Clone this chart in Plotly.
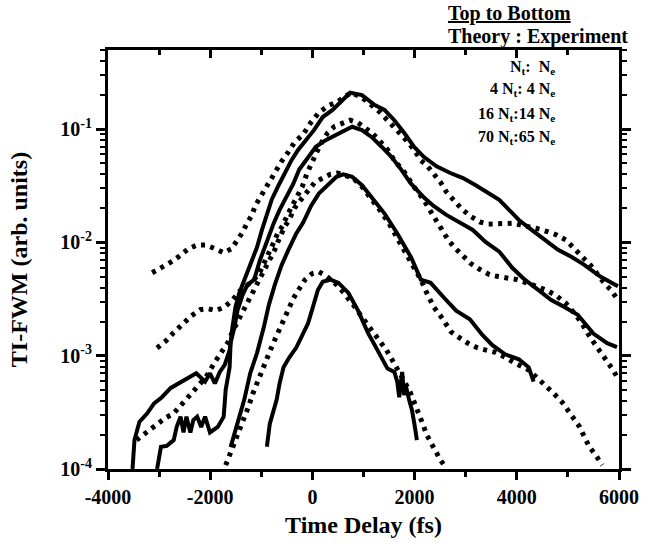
import plotly.graph_objects as go

# ---------------- data ----------------
# Experiment (solid), top to bottom
exp1_x = [-3520, -3482, -3386, -3232, -3098, -2945, -2772, -2618, -2465, -2273, -2100, -2004, -1908, -1812,
          -1716, -1620, -1563, -1505, -1428, -1333, -1217, -1083, -987, -891, -795, -661, -546, -411, -277,
          -124, 30, 203, 395, 587, 740, 970, 1220, 1412, 1603, 1795, 1987, 2179, 2429, 2698, 2947, 3196,
          3388, 3657, 3849, 4041, 4290, 4540, 4808, 5058, 5307, 5634, 5979]
exp1_y = [1.0e-4, 1.8e-4, 2.6e-4, 3.1e-4, 3.8e-4, 4.3e-4, 5.2e-4, 5.7e-4, 6.1e-4, 7.0e-4, 5.9e-4, 7.0e-4,
          5.7e-4, 7.2e-4, 8.3e-4, 1.12e-3, 1.8e-3, 2.7e-3, 3.6e-3, 4.7e-3, 6.6e-3, 9.1e-3, 1.29e-2, 1.8e-2,
          2.4e-2, 3.2e-2, 4.1e-2, 5.3e-2, 6.6e-2, 8.0e-2, 9.8e-2, 0.128, 0.148, 0.18, 0.21, 0.20, 0.163,
          0.148, 0.12, 0.093, 0.070, 0.057, 0.047, 0.041, 0.037, 0.032, 0.028, 0.0238, 0.0194, 0.0158,
          0.0129, 0.0105, 0.0086, 0.0075, 0.0064, 0.0050, 0.0041]

exp2_x = [-3040, -2963, -2849, -2714, -2657, -2580, -2522, -2465, -2388, -2330, -2254, -2177, -2100, -2004,
          -1851, -1736, -1697, -1620, -1601, -1524, -1467, -1371, -1275, -1140, -1025, -891, -757, -642,
          -507, -373, -258, -85, 68, 260, 452, 644, 778, 970, 1162, 1354, 1546, 1738, 1930, 2179, 2371,
          2621, 2890, 3139, 3388, 3657, 3906, 4156, 4425, 4674, 4923, 5192, 5499, 5768, 5960]
exp2_y = [1.0e-4, 1.57e-4, 1.6e-4, 1.8e-4, 2.35e-4, 2.9e-4, 2.1e-4, 2.9e-4, 2.1e-4, 2.7e-4, 2.9e-4, 2.35e-4,
          2.9e-4, 2.1e-4, 2.35e-4, 2.9e-4, 5.0e-4, 7.9e-4, 1.3e-3, 1.8e-3, 2.5e-3, 3.4e-3, 4.2e-3, 4.7e-3,
          7.0e-3, 1.05e-2, 1.48e-2, 1.94e-2, 2.5e-2, 3.3e-2, 4.4e-2, 5.7e-2, 7.0e-2, 8.0e-2, 8.8e-2,
          9.8e-2, 0.105, 0.098, 0.085, 0.070, 0.057, 0.044, 0.033, 0.025, 0.021, 0.0175, 0.0151, 0.0129,
          0.0101, 0.0083, 0.0060, 0.0047, 0.0038, 0.0031, 0.0027, 0.0023, 0.00157, 0.00129, 0.00119]

exp3_x = [-1601, -1524, -1428, -1333, -1217, -1083, -949, -853, -738, -603, -469, -315, -181, -27, 126, 318,
          471, 606, 778, 970, 1162, 1412, 1661, 1930, 2122, 2314, 2563, 2813, 3081, 3331, 3522, 3772, 4041,
          4233, 4329]
exp3_y = [1.56e-4, 2.1e-4, 2.9e-4, 4.1e-4, 7.0e-4, 1.06e-3, 1.8e-3, 2.8e-3, 4.2e-3, 6.3e-3, 8.6e-3, 1.2e-2,
          1.5e-2, 2.1e-2, 2.7e-2, 3.3e-2, 3.8e-2, 4.0e-2, 3.8e-2, 3.2e-2, 2.5e-2, 1.8e-2, 1.2e-2, 7.4e-3,
          4.7e-3, 4.4e-3, 3.3e-3, 2.5e-3, 2.1e-3, 1.52e-3, 1.24e-3, 1.03e-3, 9.3e-4, 7.9e-4, 5.9e-4]

exp4_x = [-891, -834, -699, -642, -565, -450, -315, -219, -85, 11, 107, 203, 356, 510, 702, 894, 1085, 1220,
          1354, 1469, 1603, 1661, 1699, 1757, 1795, 1834, 1891, 1949, 2006, 2045]
exp4_y = [1.57e-4, 2.5e-4, 4.1e-4, 5.7e-4, 7.9e-4, 9.7e-4, 1.18e-3, 1.46e-3, 1.93e-3, 2.7e-3, 3.8e-3, 4.5e-3,
          4.7e-3, 4.4e-3, 3.6e-3, 2.5e-3, 1.6e-3, 1.24e-3, 9.8e-4, 7.7e-4, 7.2e-4, 5.9e-4, 4.3e-4, 7.2e-4,
          4.5e-4, 5.3e-4, 4.1e-4, 3.3e-4, 2.35e-4, 1.8e-4]

# Theory (dotted), top to bottom
th1_x = [-3136, -2945, -2772, -2599, -2426, -2254, -2081, -1908, -1736, -1582, -1467, -1371, -1275, -1180,
         -1122, -1025, -930, -834, -699, -603, -469, -354, -181, -27, 126, 318, 491, 644, 759, 970, 1162,
         1316, 1469, 1661, 1834, 1987, 2122, 2237, 2371, 2506, 2621, 2794, 2909, 3081, 3273, 3427, 3580,
         3772, 3945, 4098, 4290, 4444, 4616, 4770, 4962, 5115, 5307, 5442, 5691, 5864, 5979]
th1_y = [5.4e-3, 6.0e-3, 6.7e-3, 7.6e-3, 8.8e-3, 9.5e-3, 9.5e-3, 8.8e-3, 8.1e-3, 8.8e-3, 1.03e-2, 1.22e-2,
         1.49e-2, 1.75e-2, 2.1e-2, 2.5e-2, 3.0e-2, 3.6e-2, 4.4e-2, 5.2e-2, 6.3e-2, 7.6e-2, 9.0e-2, 0.115,
         0.14, 0.162, 0.175, 0.195, 0.21, 0.19, 0.163, 0.142, 0.12, 0.098, 0.080, 0.066, 0.053, 0.048,
         0.041, 0.034, 0.028, 0.023, 0.020, 0.0172, 0.0152, 0.0145, 0.0145, 0.0148, 0.0148, 0.0142,
         0.0137, 0.0131, 0.0124, 0.0117, 0.0105, 0.0089, 0.0075, 0.0063, 0.0045, 0.0037, 0.0031]

th2_x = [-3040, -2868, -2714, -2542, -2369, -2196, -2043, -1889, -1716, -1563, -1428, -1275, -1140, -1025,
         -930, -853, -757, -680, -584, -488, -392, -296, -200, -104, -8, 88, 184, 299, 433, 587, 740, 894,
         1028, 1162, 1316, 1469, 1603, 1795, 1987, 2179, 2314, 2429, 2544, 2659, 2794, 2947, 3101, 3273,
         3465, 3638, 3811, 4003, 4194, 4386, 4578, 4770, 4962, 5115, 5250, 5442, 5634, 5787, 5883, 5979]
th2_y = [1.17e-3, 1.35e-3, 1.6e-3, 1.9e-3, 2.25e-3, 2.55e-3, 2.6e-3, 2.5e-3, 2.7e-3, 3.1e-3, 3.7e-3,
         4.2e-3, 4.7e-3, 5.5e-3, 6.7e-3, 8.2e-3, 1.0e-2, 1.2e-2, 1.4e-2, 1.75e-2, 2.1e-2, 2.6e-2, 3.1e-2,
         4.1e-2, 5.2e-2, 6.3e-2, 7.7e-2, 9.3e-2, 0.106, 0.114, 0.12, 0.114, 0.104, 0.093, 0.079, 0.066,
         0.053, 0.042, 0.031, 0.0238, 0.0188, 0.0153, 0.0126, 0.0105, 0.0089, 0.0076, 0.0065, 0.0058,
         0.0052, 0.0050, 0.0049, 0.0047, 0.0044, 0.0041, 0.0038, 0.0034, 0.0029, 0.0024, 0.0020, 0.00144,
         0.00109, 8.8e-4, 7.5e-4, 6.3e-4]

th3_x = [-3443, -3251, -3059, -2887, -2714, -2561, -2407, -2234, -2081, -1908, -1755, -1659, -1544, -1428,
         -1313, -1198, -1083, -968, -853, -738, -642, -546, -450, -354, -219, -85, 49, 203, 356, 491, 644,
         798, 970, 1143, 1316, 1488, 1661, 1834, 1987, 2122, 2237, 2371, 2506, 2602, 2717, 2890, 3043,
         3235, 3388, 3580, 3772, 3964, 4233, 4386, 4540, 4732, 4885, 5000, 5115, 5231, 5327, 5423, 5557,
         5672]
th3_y = [1.8e-4, 2.1e-4, 2.45e-4, 2.8e-4, 3.1e-4, 3.7e-4, 4.4e-4, 5.3e-4, 6.5e-4, 8.8e-4, 1.09e-3, 1.3e-3,
         1.7e-3, 2.15e-3, 2.6e-3, 3.4e-3, 4.2e-3, 5.5e-3, 6.7e-3, 8.6e-3, 1.1e-2, 1.37e-2, 1.6e-2, 2.0e-2,
         2.4e-2, 2.9e-2, 3.4e-2, 3.7e-2, 4.0e-2, 4.1e-2, 3.9e-2, 3.7e-2, 3.1e-2, 2.5e-2, 1.94e-2, 1.5e-2,
         1.1e-2, 8.2e-3, 6.2e-3, 4.7e-3, 3.6e-3, 2.7e-3, 2.25e-3, 1.95e-3, 1.62e-3, 1.43e-3, 1.29e-3,
         1.17e-3, 1.12e-3, 1.07e-3, 9.7e-4, 8.6e-4, 7.5e-4, 6.5e-4, 5.5e-4, 4.6e-4, 3.9e-4, 3.3e-4,
         2.8e-4, 2.35e-4, 1.9e-4, 1.56e-4, 1.3e-4, 1.08e-4]

th4_x = [-1697, -1620, -1544, -1448, -1352, -1256, -1160, -1064, -949, -834, -719, -603, -488, -373, -258,
         -143, -8, 126, 260, 414, 548, 682, 817, 951, 1085, 1220, 1335, 1450, 1565, 1680, 1795, 1911,
         2006, 2083, 2160, 2237, 2314, 2410, 2506, 2602]
th4_y = [1.08e-4, 1.33e-4, 1.6e-4, 2.0e-4, 2.65e-4, 3.5e-4, 4.7e-4, 6.1e-4, 8.1e-4, 1.09e-3, 1.44e-3,
         1.9e-3, 2.5e-3, 3.2e-3, 3.9e-3, 4.7e-3, 5.3e-3, 5.5e-3, 5.1e-3, 4.5e-3, 3.9e-3, 3.3e-3, 2.75e-3,
         2.25e-3, 1.87e-3, 1.59e-3, 1.35e-3, 1.12e-3, 9.1e-4, 7.5e-4, 6.0e-4, 4.8e-4, 3.8e-4, 3.2e-4,
         2.5e-4, 2.0e-4, 1.7e-4, 1.4e-4, 1.2e-4, 1.04e-4]

x_tick_vals = [-4000, -2000, 0, 2000, 4000, 6000]
x_tick_text = ["-4000", "-2000", "0", "2000", "4000", "6000"]
y_tick_vals = [1e-4, 1e-3, 1e-2, 1e-1]
y_tick_text = ["10<sup>-4</sup>", "10<sup>-3</sup>", "10<sup>-2</sup>", "10<sup>-1</sup>"]
legend_lines = ["N<sub>t</sub>:  N<sub>e</sub>", "4 N<sub>t</sub>: 4 N<sub>e</sub>",
                "16 N<sub>t</sub>:14 N<sub>e</sub>", "70 N<sub>t</sub>:65 N<sub>e</sub>"]

# ---------------- figure ----------------
FONT = "Liberation Serif, Times New Roman, serif"
fig = go.Figure()

for xs, ys in [(exp1_x, exp1_y), (exp2_x, exp2_y), (exp3_x, exp3_y), (exp4_x, exp4_y)]:
    fig.add_trace(go.Scatter(x=xs, y=ys, mode="lines", line=dict(color="black", width=4),
                             showlegend=False, hoverinfo="skip"))
for xs, ys in [(th1_x, th1_y), (th2_x, th2_y), (th3_x, th3_y), (th4_x, th4_y)]:
    fig.add_trace(go.Scatter(x=xs, y=ys, mode="lines", line=dict(color="black", width=5, dash="4px,5.5px"),
                             showlegend=False, hoverinfo="skip"))

# invisible trace to activate the mirror axes
fig.add_trace(go.Scatter(x=[None], y=[None], xaxis="x2", yaxis="y2", showlegend=False))

minor_y = [k * 10.0 ** e for e in range(-4, 0) for k in range(2, 10) if k * 10.0 ** e <= 0.5]

yrange = [-4, -0.301]
xrange = [-4000, 6000]

fig.update_layout(
    width=651, height=548,
    margin=dict(l=108, r=22, t=50, b=79),
    paper_bgcolor="white", plot_bgcolor="white",
    font=dict(family=FONT, color="black", size=16, weight="bold"),
    xaxis=dict(range=xrange, showline=True, linecolor="black", linewidth=3, mirror=False,
               ticks="outside", ticklen=8, tickwidth=2.5, tickcolor="black",
               tickmode="array", tickvals=x_tick_vals, ticktext=x_tick_text,
               minor=dict(dtick=1000, ticks="outside", ticklen=5, tickwidth=2.5, tickcolor="black"),
               showgrid=False, zeroline=False,
               tickfont=dict(family=FONT, size=20, weight="bold"),
               title=dict(text="Time Delay (fs)", font=dict(family=FONT, size=24, weight="bold"), standoff=10)),
    yaxis=dict(type="log", range=yrange, showline=True, linecolor="black", linewidth=3,
               ticks="outside", ticklen=9, tickwidth=2.5, tickcolor="black",
               tickmode="array", tickvals=y_tick_vals, ticktext=y_tick_text,
               minor=dict(tickmode="array", tickvals=minor_y, ticks="outside", ticklen=5, tickwidth=2,
                          tickcolor="black"),
               showgrid=False, zeroline=False,
               tickfont=dict(family=FONT, size=20, weight="bold"),
               title=dict(text="TI-FWM (arb. units)", font=dict(family=FONT, size=24, weight="bold"), standoff=26)),
    xaxis2=dict(range=xrange, overlaying="x", side="top", showline=True, linecolor="black", linewidth=3,
                ticks="inside", ticklen=8, tickwidth=2.5, tickcolor="black",
                tickmode="array", tickvals=x_tick_vals, showticklabels=False,
                minor=dict(dtick=1000, ticks="inside", ticklen=5, tickwidth=2.5, tickcolor="black"),
                showgrid=False, zeroline=False),
    yaxis2=dict(type="log", range=yrange, overlaying="y", side="right", showline=True, linecolor="black",
                linewidth=3, ticks="outside", ticklen=9, tickwidth=2.5, tickcolor="black",
                tickmode="array", tickvals=y_tick_vals, showticklabels=False,
                minor=dict(tickmode="array", tickvals=minor_y, ticks="outside", ticklen=5, tickwidth=2,
                           tickcolor="black"),
                showgrid=False, zeroline=False),
)

fig.add_annotation(text="<u>Top to Bottom</u>", xref="paper", yref="paper", x=0.662, y=1.088,
                   xanchor="left", yanchor="middle", showarrow=False,
                   font=dict(family=FONT, size=20, weight="bold"))
fig.add_annotation(text="Theory : Experiment", xref="paper", yref="paper", x=0.662, y=1.033,
                   xanchor="left", yanchor="middle", showarrow=False,
                   font=dict(family=FONT, size=20, weight="bold"))
for txt, yy in zip(legend_lines, [0.959, 0.905, 0.845, 0.79]):
    fig.add_annotation(text=txt, xref="paper", yref="paper", x=0.878, y=yy,
                       xanchor="right", yanchor="middle", showarrow=False,
                       font=dict(family=FONT, size=16, weight="bold"))

fig.write_html("out.html")
